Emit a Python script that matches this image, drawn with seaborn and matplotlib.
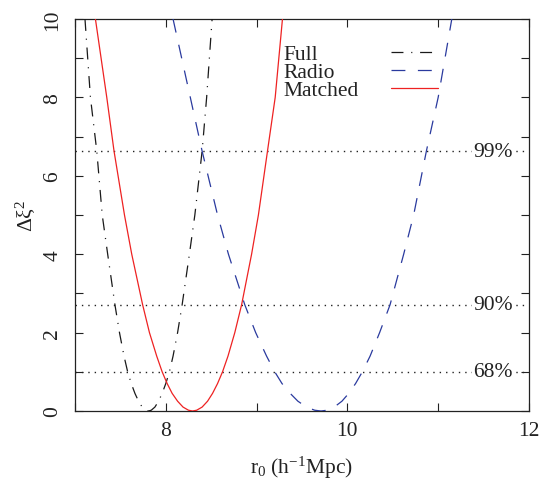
import numpy as np
import pandas as pd
import matplotlib
matplotlib.use("Agg")
import matplotlib.pyplot as plt
import seaborn as sns
from matplotlib.ticker import MultipleLocator

# ==========================================
# Data
# ==========================================
full_r0 = [7.11, 7.17, 7.24, 7.30, 7.36, 7.44, 7.49, 7.54, 7.58, 7.62, 7.66, 7.70, 7.74, 7.78, 7.81,
           7.84, 7.88, 7.92, 7.96, 8.00, 8.04, 8.08, 8.13, 8.18, 8.26, 8.32, 8.40, 8.45, 8.51]
full_dchi = [10, 8, 6.63, 5, 4, 2.71, 2, 1.4, 1, 0.7, 0.45, 0.25, 0.1, 0.02, 0,
             0.02, 0.1, 0.25, 0.45, 0.7, 1, 1.4, 2, 2.71, 4, 5, 6.63, 8, 10]

radio_r0 = [8.08, 8.27, 8.40, 8.57, 8.69, 8.87, 8.99, 9.11, 9.20, 9.28, 9.37, 9.455, 9.55, 9.64, 9.71,
            9.775, 9.855, 9.94, 10.015, 10.09, 10.165, 10.25, 10.355, 10.47, 10.62, 10.73, 10.87, 11.00, 11.15]
radio_dchi = [10, 8, 6.63, 5, 4, 2.71, 2, 1.4, 1, 0.7, 0.45, 0.25, 0.1, 0.02, 0,
              0.02, 0.1, 0.25, 0.45, 0.7, 1, 1.4, 2, 2.71, 4, 5, 6.63, 8, 10]

matched_r0 = [7.225, 7.35, 7.43, 7.545, 7.625, 7.745, 7.82, 7.90, 7.96, 8.015, 8.07, 8.13, 8.19, 8.25, 8.295,
              8.34, 8.40, 8.46, 8.515, 8.57, 8.625, 8.685, 8.76, 8.835, 8.945, 9.02, 9.12, 9.205, 9.285]
matched_dchi = [10, 8, 6.63, 5, 4, 2.71, 2, 1.4, 1, 0.7, 0.45, 0.25, 0.1, 0.02, 0,
                0.02, 0.1, 0.25, 0.45, 0.7, 1, 1.4, 2, 2.71, 4, 5, 6.63, 8, 10]

series_names = ['Full', 'Radio', 'Matched']
conf_levels = [1.0, 2.71, 6.63]
conf_labels = ['68%', '90%', '99%']
x_ticks = [8, 10, 12]
y_ticks = [0, 2, 4, 6, 8, 10]

df = pd.concat([
    pd.DataFrame({'r0': full_r0, 'dchi': full_dchi, 'sample': 'Full'}),
    pd.DataFrame({'r0': radio_r0, 'dchi': radio_dchi, 'sample': 'Radio'}),
    pd.DataFrame({'r0': matched_r0, 'dchi': matched_dchi, 'sample': 'Matched'}),
], ignore_index=True)

# ==========================================
# Style
# ==========================================
sns.set_theme(style='ticks')
plt.rcParams['font.family'] = ['Liberation Serif', 'DejaVu Serif']
plt.rcParams['mathtext.fontset'] = 'custom'
plt.rcParams['mathtext.rm'] = 'Liberation Serif'
plt.rcParams['mathtext.it'] = 'Liberation Serif:italic'
plt.rcParams['lines.scale_dashes'] = False

styles = {
    'Full': dict(color='#1a1a1a', ls=(0, (8.6, 5.6, 0.8, 5.6))),
    'Radio': dict(color='#2a3a9e', ls=(0, (10.0, 9.0))),
    'Matched': dict(color='#ee2222', ls='-'),
}

fig = plt.figure(figsize=(5.45, 4.85), dpi=100)
ax = fig.add_axes([0.1376, 0.1505, 0.833, 0.8083])

for level, lab in zip(conf_levels, conf_labels):
    ax.axhline(level, color='#222222', lw=1.0, ls=(0, (1.0, 3.6)), zorder=1)
    ax.text(11.60, level, lab, ha='center', va='center', fontsize=15.5, color='#222222',
            bbox=dict(facecolor='white', edgecolor='none', pad=1.0), zorder=5)

for name in series_names:
    sub = df[df['sample'] == name]
    sns.lineplot(data=sub, x='r0', y='dchi', sort=False, estimator=None, ax=ax,
                 color=styles[name]['color'], linestyle=styles[name]['ls'], lw=0.9, zorder=3)

# legend: label on the left, line sample on the right (gnuplot style)
leg_text_y = [0.898, 0.853, 0.807]
leg_line_y = [0.915, 0.870, 0.823]
for name, ty, ly in zip(series_names, leg_text_y, leg_line_y):
    ax.text(0.460, ty, name, transform=ax.transAxes, ha='left', va='baseline',
            fontsize=15.5, color='#222222')
    ax.plot([0.696, 0.800], [ly, ly], transform=ax.transAxes,
            color=styles[name]['color'], linestyle=styles[name]['ls'], lw=0.9)

ax.set_xlim(7, 12)
ax.set_ylim(0, 10)
ax.set_xticks(x_ticks)
ax.set_yticks(y_ticks)
ax.xaxis.set_minor_locator(MultipleLocator(1))
ax.yaxis.set_minor_locator(MultipleLocator(1))
ax.tick_params(which='both', direction='in', top=True, right=True, length=5.8, width=0.8,
               color='#222222')
ax.tick_params(axis='x', which='major', pad=7.2, labelsize=15.5, labelcolor='#222222')
ax.tick_params(axis='y', which='major', pad=9.0, labelsize=15.5, labelcolor='#222222',
               labelrotation=90)
for lab in ax.get_yticklabels():
    lab.set_va('center')

for sp in ax.spines.values():
    sp.set_linewidth(0.9)
    sp.set_color('#222222')

ax.set_xlabel('r$_0$ (h$^{-1}$Mpc)', fontsize=15.5, color='#222222', labelpad=10)
ax.set_ylabel('Δξ$^2$', fontsize=15.5, color='#222222', labelpad=4)

fig.savefig('out.png', dpi=100)
